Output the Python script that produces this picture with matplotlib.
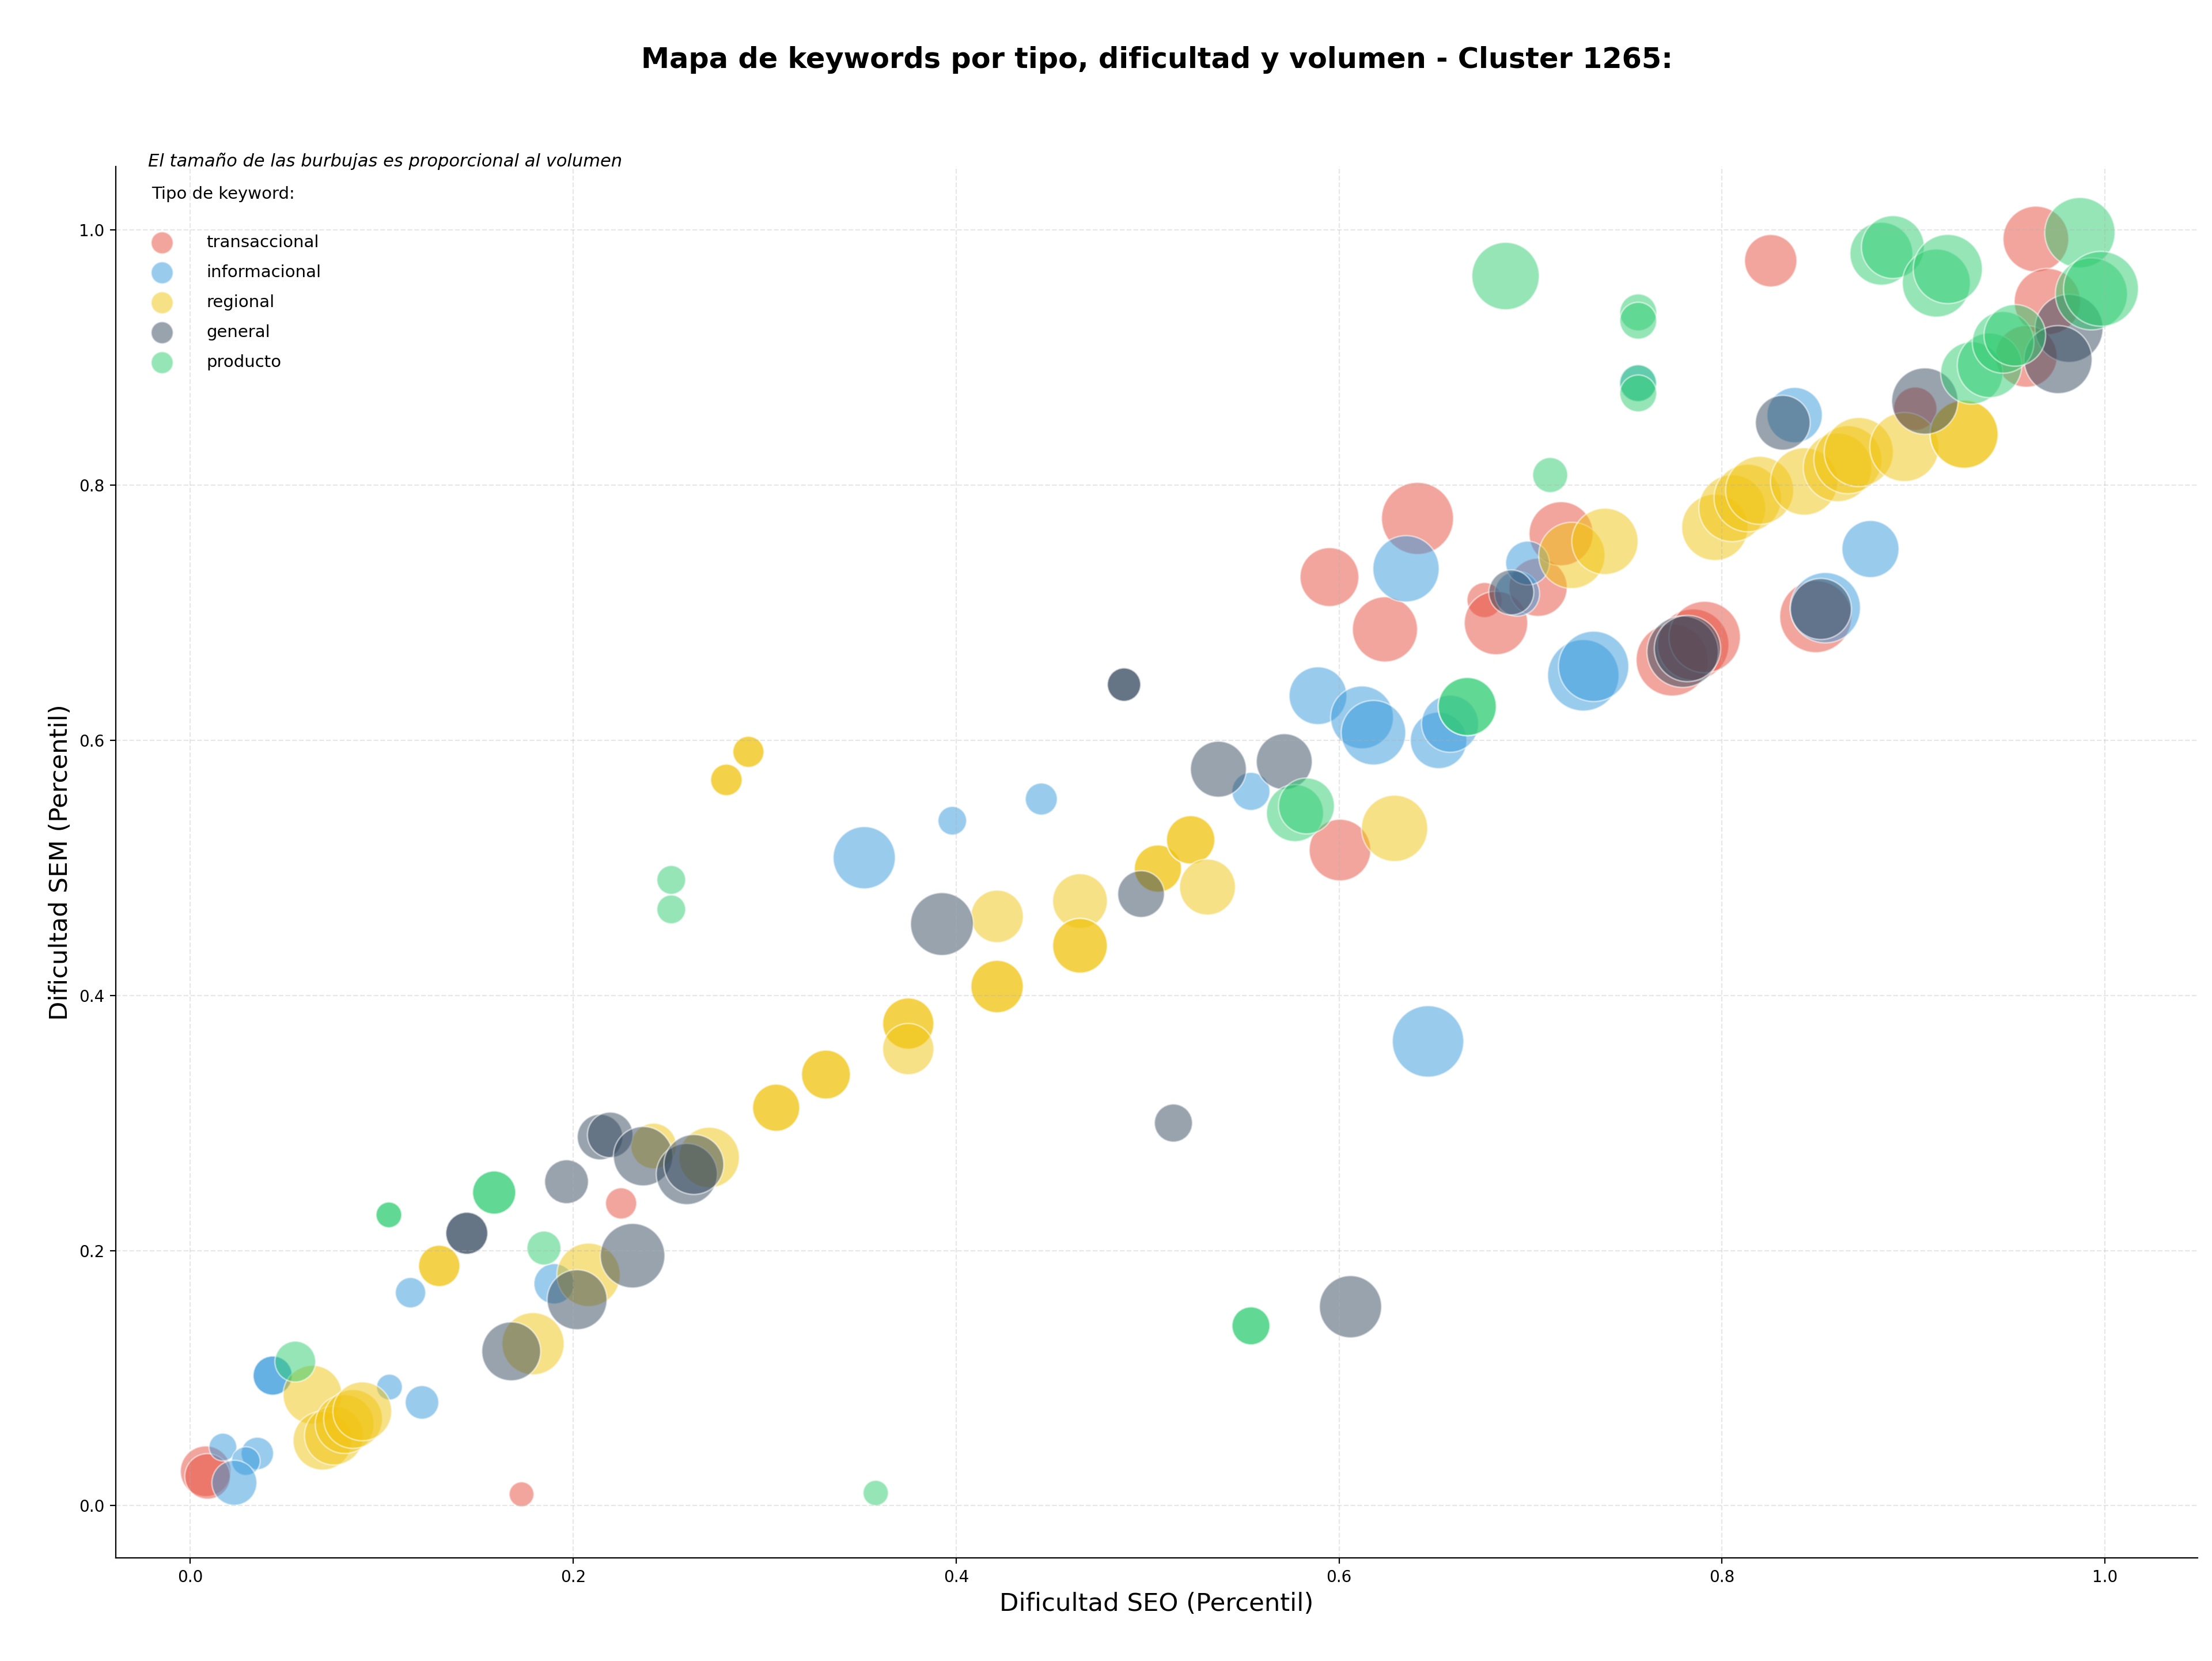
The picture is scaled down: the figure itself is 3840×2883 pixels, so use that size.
import matplotlib
matplotlib.use("Agg")
import matplotlib.pyplot as plt

# keyword types and their colours
tipos = ["transaccional", "informacional", "regional", "general", "producto"]
colores = ["#e74c3c", "#3498db", "#f1c40f", "#34495e", "#2ecc71"]

# (dificultad SEO, dificultad SEM, volumen) per type
trans_seo = [0.008, 0.009, 0.173, 0.225, 0.6005, 0.641, 0.595, 0.624, 0.676, 0.682, 0.704,
             0.716, 0.774, 0.785, 0.791, 0.849, 0.8255, 0.964, 0.970, 0.959, 0.901]
trans_sem = [0.027, 0.023, 0.009, 0.237, 0.514, 0.774, 0.728, 0.687, 0.710, 0.692, 0.720,
             0.762, 0.663, 0.675, 0.681, 0.697, 0.976, 0.993, 0.944, 0.901, 0.860]
trans_vol = [1000, 810, 240, 380, 1480, 2025, 1350, 1655, 480, 1570, 1320,
             1600, 2025, 1990, 1990, 2025, 1070, 1685, 1715, 1480, 730]

info_seo = [0.017, 0.035, 0.029, 0.023, 0.043, 0.043, 0.104, 0.121, 0.115, 0.190, 0.352,
            0.398, 0.4445, 0.554, 0.589, 0.612, 0.618, 0.652, 0.658, 0.6465, 0.635,
            0.693, 0.6985, 0.7276, 0.733, 0.838, 0.8776, 0.854, 0.756]
info_sem = [0.046, 0.041, 0.035, 0.018, 0.102, 0.102, 0.093, 0.081, 0.167, 0.174, 0.508,
            0.537, 0.554, 0.560, 0.635, 0.618, 0.606, 0.600, 0.613, 0.364, 0.7345,
            0.715, 0.739, 0.651, 0.658, 0.855, 0.750, 0.704, 0.880]
info_vol = [300, 410, 320, 790, 600, 600, 260, 440, 360, 635, 1510,
            320, 400, 565, 1300, 1540, 1625, 1245, 1270, 1990, 1715,
            790, 750, 1990, 1930, 1195, 1270, 1930, 530]

reg_seo = [0.0638, 0.069, 0.075, 0.0806, 0.085, 0.0898, 0.130, 0.130, 0.179, 0.208, 0.242,
           0.271, 0.2915, 0.2915, 0.280, 0.280, 0.306, 0.306, 0.332, 0.332, 0.375, 0.375,
           0.375, 0.4214, 0.4214, 0.4214, 0.4647, 0.4647, 0.4647, 0.5054, 0.5054, 0.5225,
           0.5225, 0.5313, 0.629, 0.7216, 0.7389, 0.7963, 0.8054, 0.8135, 0.8197, 0.843,
           0.8604, 0.8658, 0.8715, 0.8953, 0.9265, 0.9265]
reg_sem = [0.087, 0.051, 0.055, 0.064, 0.068, 0.074, 0.188, 0.188, 0.127, 0.181, 0.282,
           0.273, 0.591, 0.591, 0.569, 0.569, 0.312, 0.312, 0.338, 0.338, 0.378, 0.378,
           0.358, 0.462, 0.407, 0.407, 0.474, 0.439, 0.439, 0.4995, 0.4995, 0.522,
           0.522, 0.485, 0.531, 0.745, 0.756, 0.767, 0.782, 0.790, 0.796, 0.803,
           0.814, 0.820, 0.826, 0.830, 0.840, 0.840]
reg_vol = [1350, 1350, 1350, 1350, 1350, 1350, 670, 670, 1510, 1570, 810,
           1430, 380, 380, 390, 390, 870, 870, 935, 935, 1025, 1025,
           1025, 1075, 1075, 1075, 1170, 1170, 1170, 870, 870, 915,
           915, 1220, 1715, 1715, 1715, 1715, 1745, 1775, 1805, 1775,
           1835, 1805, 1866, 1866, 1805, 1805]

gen_seo = [0.1444, 0.1444, 0.1676, 0.1965, 0.202, 0.231, 0.214, 0.2193, 0.2365, 0.2593,
           0.263, 0.3926, 0.4877, 0.4877, 0.4966, 0.537, 0.5714, 0.5135, 0.606, 0.690,
           0.7795, 0.782, 0.8517, 0.8318, 0.906, 0.9813, 0.9756]
gen_sem = [0.2136, 0.2136, 0.121, 0.254, 0.1615, 0.196, 0.289, 0.2907, 0.274, 0.260,
           0.2675, 0.456, 0.6437, 0.6437, 0.4795, 0.5774, 0.5833, 0.300, 0.156, 0.716,
           0.6695, 0.672, 0.703, 0.849, 0.866, 0.923, 0.8985]
gen_vol = [690, 690, 1350, 750, 1400, 1625, 810, 810, 1375, 1455,
           1400, 1540, 436, 436, 850, 1220, 1220, 565, 1510, 790,
           1990, 1715, 1456, 1170, 1715, 1805, 1805]

prod_seo = [0.0548, 0.1037, 0.1037, 0.1587, 0.1587, 0.1847, 0.2512, 0.2512, 0.358, 0.554,
            0.554, 0.577, 0.583, 0.667, 0.667, 0.687, 0.7103, 0.7563, 0.7563, 0.7563,
            0.7563, 0.8833, 0.8893, 0.912, 0.918, 0.987, 0.993, 0.998, 0.9305, 0.9398,
            0.9469, 0.953]
prod_sem = [0.113, 0.228, 0.228, 0.2455, 0.2455, 0.202, 0.4906, 0.4675, 0.010, 0.141,
            0.141, 0.543, 0.5486, 0.6265, 0.6265, 0.964, 0.808, 0.9355, 0.929, 0.880,
            0.872, 0.9815, 0.9867, 0.9585, 0.9695, 0.998, 0.950, 0.954, 0.888, 0.894,
            0.912, 0.9175]
prod_vol = [650, 260, 260, 730, 730, 450, 324, 324, 250, 565,
            565, 1270, 1220, 1320, 1320, 1774, 480, 531, 531, 531,
            531, 1540, 1540, 1805, 1866, 1930, 2025, 2190, 1510, 1625,
            1484, 1484]

datos = {
    "transaccional": (trans_seo, trans_sem, trans_vol),
    "informacional": (info_seo, info_sem, info_vol),
    "regional": (reg_seo, reg_sem, reg_vol),
    "general": (gen_seo, gen_sem, gen_vol),
    "producto": (prod_seo, prod_sem, prod_vol),
}


def main():
    fig = plt.figure(figsize=(19.2, 14.415), dpi=200)
    ax = fig.add_axes([0.0523, 0.062, 0.9413, 0.8377])

    for tipo, color in zip(tipos, colores):
        seo, sem, vol = datos[tipo]
        ax.scatter(seo, sem, s=vol, c=color, alpha=0.5, edgecolors="white", linewidths=1)
        # proxy so every legend marker has the same size
        ax.scatter([], [], s=190, c=color, alpha=0.5, edgecolors="white", linewidths=1, label=tipo)

    ax.set_xlim(-0.039, 1.0486)
    ax.set_ylim(-0.041, 1.0498)
    ax.set_xlabel("Dificultad SEO (Percentil)", fontsize=15.6)
    ax.set_ylabel("Dificultad SEM (Percentil)", fontsize=15.6)
    ax.tick_params(labelsize=10)
    ax.grid(True, linestyle="--", alpha=0.3)
    ax.spines["top"].set_visible(False)
    ax.spines["right"].set_visible(False)

    leg = ax.legend(title="Tipo de keyword:\n", loc="upper left", bbox_to_anchor=(0.01, 0.997),
                    frameon=False, fontsize=10.5, title_fontsize=10.5, labelspacing=0.82,
                    handlelength=1.2, handletextpad=2.05)
    leg._legend_box.align = "left"

    ax.text(0.0156, 1.004, "El tamaño de las burbujas es proporcional al volumen",
            transform=ax.transAxes, fontsize=11, style="italic", va="center", ha="left")

    fig.text(0.523, 0.964, "Mapa de keywords por tipo, dificultad y volumen - Cluster 1265:",
             ha="center", va="center", fontsize=17.8, fontweight="bold")

    fig.savefig("out.png", dpi=200)


if __name__ == "__main__":
    main()
